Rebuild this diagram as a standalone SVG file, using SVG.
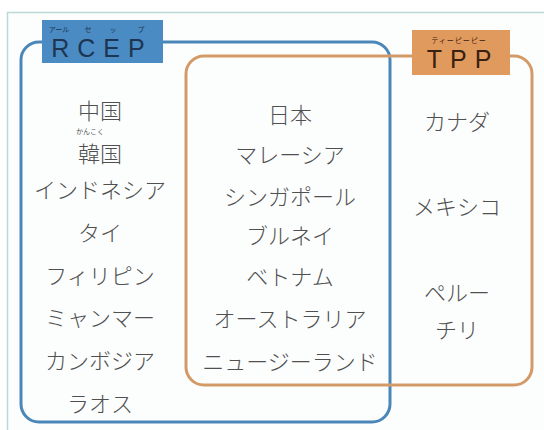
<svg xmlns="http://www.w3.org/2000/svg" width="544" height="430" viewBox="0 0 544 430">
<style>
.c{font-family:"Noto Sans CJK JP","Noto Sans",sans-serif;font-size:22px;font-weight:300;fill:#505050;text-anchor:middle}
.ruby{font-family:"Noto Sans CJK JP","Noto Sans",sans-serif;font-size:7px;text-anchor:middle}
.lab{font-family:"Liberation Sans","Noto Sans",sans-serif;font-size:25px;text-anchor:middle}
</style>
<rect x="0" y="0" width="544" height="430" fill="#ffffff"/>
<rect x="7.5" y="12.5" width="545" height="430" fill="#fcfefe" stroke="#b9d8d6" stroke-width="1.5"/>
<g id="connectors">
<rect id="rcep-set" x="21" y="42" width="369" height="380" rx="18" fill="none" stroke="#4a86b8" stroke-width="3"/>
<rect id="tpp-set" x="186" y="56" width="346" height="329" rx="18" fill="none" stroke="#d39a68" stroke-width="3"/>
</g>
<g id="rcep-label">
<rect x="42" y="20" width="121" height="43" fill="#4a8bc4"/>
<text class="ruby" fill="#1d3550" x="59" y="32">アール</text>
<text class="ruby" fill="#1d3550" x="88" y="32">セ</text>
<text class="ruby" fill="#1d3550" x="113" y="32">ッ</text>
<text class="ruby" fill="#1d3550" x="141" y="32">プ</text>
<text class="lab" fill="#1d3550" x="102" y="57" letter-spacing="8">RCEP</text>
</g>
<g id="tpp-label">
<rect x="412" y="30" width="98" height="45" fill="#e09a5e"/>
<text class="ruby" fill="#3a2010" x="459" y="43" font-size="8" letter-spacing="1">ティーピーピー</text>
<text class="lab" fill="#3a2010" x="463" y="68" letter-spacing="8">TPP</text>
</g>
<g id="rcep-only">
<text class="c" x="100" y="119">中国</text>
<text class="ruby" fill="#505050" x="90" y="134" font-size="6">かんこく</text>
<text class="c" x="100" y="162">韓国</text>
<text class="c" x="100" y="198">インドネシア</text>
<text class="c" x="100" y="241">タイ</text>
<text class="c" x="100" y="284">フィリピン</text>
<text class="c" x="100" y="326">ミャンマー</text>
<text class="c" x="100" y="369">カンボジア</text>
<text class="c" x="100" y="412">ラオス</text>
</g>
<g id="both">
<text class="c" x="290" y="123">日本</text>
<text class="c" x="290" y="163">マレーシア</text>
<text class="c" x="290" y="205">シンガポール</text>
<text class="c" x="290" y="244">ブルネイ</text>
<text class="c" x="290" y="285">ベトナム</text>
<text class="c" x="290" y="327">オーストラリア</text>
<text class="c" x="290" y="370">ニュージーランド</text>
</g>
<g id="tpp-only">
<text class="c" x="457" y="130">カナダ</text>
<text class="c" x="457" y="215">メキシコ</text>
<text class="c" x="457" y="301">ペルー</text>
<text class="c" x="457" y="338">チリ</text>
</g>
</svg>
